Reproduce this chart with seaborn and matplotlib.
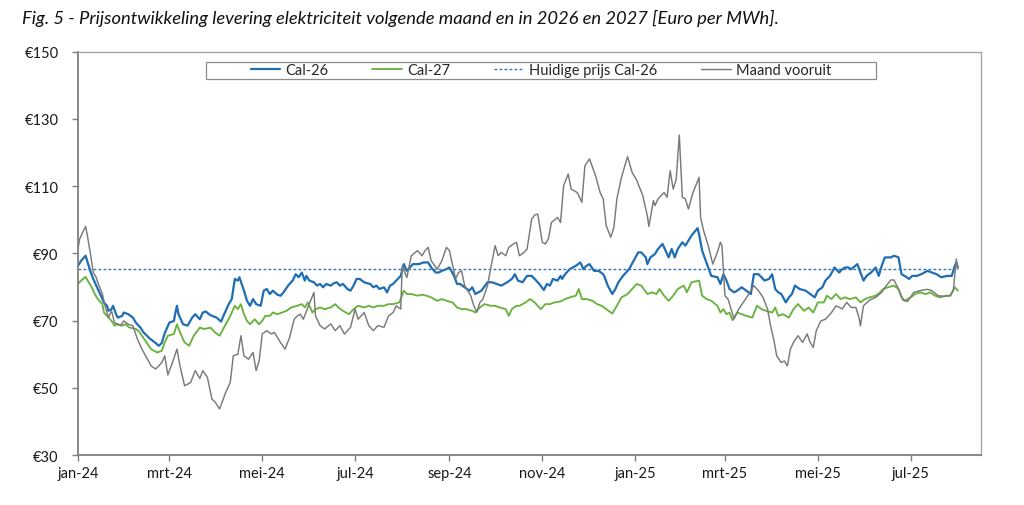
import matplotlib
matplotlib.use("Agg")
import matplotlib.pyplot as plt
import seaborn as sns
import pandas as pd
from matplotlib.patches import Rectangle

# ---------------- data ----------------
TITLE = "Fig. 5 - Prijsontwikkeling levering elektriciteit volgende maand en in 2026 en 2027 [Euro per MWh]."
START = "2024-01-01"   # day 0 of the day offsets below

# Cal-26: days since 1 Jan 2024, price
cal26_days = [0, 2, 5, 6, 8, 10, 12, 14, 17, 19,
              20, 22, 23, 25, 26, 29, 30, 33, 36, 38,
              41, 43, 47, 51, 53, 55, 57, 60, 63, 64,
              65, 66, 69, 72, 75, 77, 80, 82, 84, 86,
              88, 91, 94, 96, 99, 101, 103, 105, 106, 109,
              111, 113, 115, 117, 120, 122, 124, 126, 128, 131,
              133, 135, 138, 141, 143, 145, 147, 149, 150, 152,
              155, 157, 159, 161, 163, 166, 168, 170, 172, 174,
              177, 179, 181, 183, 185, 188, 190, 192, 194, 196,
              198, 201, 203, 205, 207, 209, 212, 214, 216, 218,
              220, 224, 227, 230, 232, 235, 237, 239, 242, 244,
              247, 249, 251, 254, 257, 259, 261, 263, 265, 269,
              272, 275, 278, 282, 285, 287, 289, 292, 295, 298,
              301, 303, 306, 308, 310, 312, 315, 317, 318, 320,
              323, 327, 330, 332, 334, 336, 339, 342, 345, 346,
              348, 351, 353, 355, 358, 362, 365, 368, 370, 373,
              374, 376, 379, 381, 384, 386, 388, 390, 392, 394,
              397, 399, 401, 403, 407, 408, 410, 412, 414, 416,
              420, 422, 424, 426, 428, 431, 433, 436, 439, 442,
              444, 447, 449, 451, 454, 456, 458, 460, 462, 465,
              467, 469, 471, 474, 478, 481, 484, 486, 489, 491,
              494, 497, 500, 502, 504, 506, 508, 512, 514, 516,
              518, 521, 524, 526, 528, 530, 534, 536, 539, 541,
              543, 546, 548, 551, 554, 558, 561, 564, 567, 571,
              574, 576, 577, 578]
cal26_vals = [86.3, 87.8, 89.3, 87.8, 84.8, 82.4, 80.4, 78.4, 75.4, 74.4,
              72.9, 73.4, 74.4, 71.9, 70.9, 71.4, 72.4, 71.9, 70.9, 69.4,
              67.9, 66.5, 64.7, 63.3, 62.5, 63.3, 66.3, 69.4, 69.9, 72.4,
              74.4, 71.9, 68.9, 68.5, 70.9, 71.9, 70.4, 72.4, 72.7, 71.9,
              71.4, 70.9, 69.7, 71.9, 74.9, 76.4, 82.4, 81.9, 82.9, 78.9,
              75.9, 74.4, 76.4, 74.9, 74.4, 78.9, 79.4, 77.9, 78.9, 77.7,
              77.4, 78.4, 80.4, 81.9, 83.8, 82.9, 84.3, 81.9, 83.3, 81.9,
              81.4, 80.4, 80.9, 79.9, 80.9, 80.4, 81.1, 81.4, 80.4, 80.9,
              79.4, 78.9, 80.4, 82.4, 82.4, 81.4, 81.1, 80.9, 79.9, 80.4,
              79.4, 79.9, 78.4, 80.4, 80.9, 81.9, 83.3, 86.8, 84.8, 85.8,
              86.8, 86.8, 87.3, 87.3, 85.8, 84.3, 84.3, 84.8, 85.3, 85.8,
              83.3, 80.9, 80.9, 79.9, 78.9, 79.9, 77.9, 78.4, 78.9, 81.4,
              81.4, 80.9, 80.4, 81.4, 82.4, 83.8, 81.9, 81.4, 83.3, 83.3,
              81.9, 80.9, 79.1, 80.9, 80.4, 82.4, 81.9, 83.3, 82.4, 83.8,
              85.3, 86.3, 87.3, 85.3, 86.3, 86.8, 84.8, 84.8, 83.8, 82.9,
              80.4, 77.9, 79.4, 81.4, 83.3, 85.3, 87.8, 90.3, 90.3, 88.8,
              86.8, 88.8, 89.8, 91.3, 92.8, 90.8, 88.8, 91.3, 88.8, 91.3,
              93.3, 92.3, 93.8, 95.3, 97.5, 95.7, 90.8, 88.3, 85.8, 83.3,
              82.9, 80.9, 83.8, 81.9, 79.4, 78.4, 78.9, 79.9, 78.9, 77.9,
              83.8, 83.8, 82.9, 81.9, 82.4, 83.8, 79.4, 78.4, 77.9, 75.4,
              76.9, 77.9, 80.4, 79.4, 78.9, 77.9, 76.9, 78.9, 79.9, 81.9,
              83.3, 85.8, 84.3, 85.3, 85.8, 85.8, 85.3, 86.8, 84.3, 81.9,
              83.3, 84.3, 85.8, 83.3, 86.3, 88.8, 88.8, 89.3, 88.8, 83.8,
              83.3, 82.4, 83.3, 83.3, 83.8, 84.8, 84.3, 83.8, 82.9, 83.3,
              83.3, 86.3, 87.3, 85.8]

# Cal-27
cal27_days = [0, 2, 5, 7, 9, 11, 13, 16, 17, 20,
              22, 24, 26, 29, 31, 34, 38, 40, 45, 48,
              52, 55, 57, 59, 63, 65, 67, 70, 73, 76,
              80, 83, 87, 90, 93, 97, 100, 103, 105, 107,
              109, 111, 113, 116, 119, 121, 123, 126, 128, 131,
              134, 137, 140, 144, 147, 149, 151, 154, 156, 159,
              162, 166, 169, 171, 174, 178, 181, 184, 188, 191,
              194, 197, 201, 204, 207, 211, 212, 214, 216, 219,
              223, 226, 229, 232, 236, 239, 242, 246, 249, 252,
              255, 259, 261, 264, 267, 271, 274, 277, 281, 283,
              285, 288, 290, 294, 297, 300, 304, 307, 310, 313,
              317, 320, 323, 327, 329, 331, 334, 338, 341, 344,
              347, 351, 354, 357, 361, 364, 367, 370, 374, 377,
              380, 382, 385, 388, 391, 394, 398, 400, 403, 408,
              410, 413, 416, 420, 422, 424, 426, 428, 430, 433,
              436, 439, 443, 446, 449, 452, 456, 458, 460, 463,
              467, 470, 473, 477, 480, 483, 486, 490, 492, 495,
              498, 501, 504, 507, 511, 514, 517, 520, 524, 527,
              529, 532, 536, 539, 541, 543, 547, 550, 553, 557,
              560, 563, 566, 570, 573, 576, 578]
cal27_vals = [80.9, 81.9, 83.0, 81.4, 79.9, 77.9, 76.4, 74.9, 72.4, 70.9,
              69.9, 68.5, 68.9, 68.5, 68.9, 67.9, 67.5, 66.8, 63.5, 61.5,
              60.5, 61.0, 63.5, 65.5, 66.0, 68.9, 66.5, 63.5, 62.5, 65.5,
              67.9, 67.5, 67.9, 66.5, 65.5, 68.9, 71.4, 74.4, 73.4, 74.9,
              71.9, 69.9, 68.9, 70.4, 68.9, 69.9, 71.4, 71.4, 72.4, 71.9,
              72.4, 72.9, 73.9, 74.4, 74.9, 73.9, 75.4, 72.4, 73.4, 73.9,
              73.4, 73.9, 74.9, 73.9, 72.9, 71.9, 73.4, 74.4, 73.9, 74.4,
              73.9, 74.4, 74.4, 74.9, 74.9, 75.4, 76.4, 78.9, 77.9, 77.9,
              77.4, 77.7, 77.4, 76.9, 75.9, 76.4, 75.9, 75.4, 73.9, 73.4,
              73.4, 72.9, 72.4, 73.9, 74.9, 74.4, 74.4, 73.9, 73.4, 71.4,
              73.4, 74.4, 74.4, 75.4, 76.4, 75.4, 73.4, 74.9, 74.9, 75.4,
              75.7, 76.4, 76.9, 77.4, 79.4, 76.4, 76.4, 75.9, 74.9, 74.4,
              73.4, 72.1, 74.4, 76.9, 77.9, 79.4, 80.9, 80.4, 77.9, 78.4,
              77.9, 79.4, 77.4, 75.9, 77.4, 79.4, 80.4, 78.4, 81.4, 81.9,
              77.4, 76.4, 75.9, 74.4, 72.4, 73.4, 71.9, 72.4, 70.1, 72.4,
              71.9, 71.4, 70.9, 74.4, 73.4, 72.9, 72.4, 73.9, 71.4, 71.9,
              70.9, 73.4, 74.9, 72.9, 73.9, 72.4, 75.4, 75.4, 77.4, 76.4,
              77.9, 76.4, 76.9, 76.4, 76.9, 75.4, 76.4, 76.9, 77.4, 78.4,
              79.4, 79.9, 80.4, 79.4, 76.9, 75.9, 76.9, 77.9, 78.4, 77.9,
              78.4, 77.4, 76.9, 77.4, 77.4, 79.9, 78.9]

huidige_prijs = 85.4
huidige_span = ["2024-01-01", "2025-08-01"]

# Maand vooruit (month ahead)
maand_days = [0, 1, 3, 5, 6, 8, 10, 12, 13, 16,
              18, 20, 22, 24, 28, 30, 33, 36, 39, 42,
              45, 48, 51, 53, 55, 57, 59, 62, 65, 67,
              70, 74, 77, 80, 82, 85, 88, 90, 93, 97,
              100, 102, 105, 107, 109, 112, 115, 117, 119, 121,
              124, 127, 129, 133, 136, 139, 142, 144, 146, 148,
              151, 155, 156, 159, 162, 166, 169, 172, 175, 179,
              182, 184, 188, 191, 194, 197, 201, 204, 207, 209,
              212, 213, 216, 219, 223, 226, 228, 230, 232, 236,
              239, 242, 244, 248, 250, 252, 254, 258, 260, 262,
              264, 266, 269, 271, 274, 276, 278, 281, 283, 286,
              288, 290, 293, 295, 298, 300, 302, 305, 307, 309,
              311, 315, 317, 319, 322, 324, 328, 331, 333, 336,
              340, 343, 345, 347, 350, 352, 354, 357, 361, 364,
              367, 371, 374, 375, 378, 379, 381, 385, 387, 389,
              391, 393, 395, 397, 399, 401, 404, 408, 409, 411,
              414, 417, 420, 422, 423, 425, 427, 431, 434, 437,
              440, 444, 447, 450, 453, 455, 457, 459, 462, 464,
              466, 468, 470, 473, 476, 479, 481, 483, 485, 488,
              491, 495, 498, 502, 505, 508, 511, 513, 514, 516,
              520, 524, 528, 531, 534, 536, 539, 542, 545, 549,
              553, 558, 561, 565, 569, 573, 575, 577, 578]
maand_vals = [91.3, 94.2, 96.2, 98.0, 95.7, 90.3, 84.3, 82.8, 81.3, 77.9,
              73.9, 70.9, 72.9, 69.4, 68.5, 69.9, 68.9, 68.5, 64.5, 61.5,
              59.0, 56.5, 55.6, 56.5, 57.5, 59.5, 53.8, 57.5, 61.5, 56.5,
              50.6, 51.6, 55.1, 52.8, 55.1, 53.1, 46.6, 45.8, 43.7, 48.6,
              51.6, 59.5, 60.0, 65.5, 59.5, 58.5, 60.5, 55.1, 58.0, 66.0,
              67.0, 66.0, 66.5, 63.5, 61.5, 65.0, 70.4, 71.4, 71.9, 70.4,
              73.9, 78.4, 71.4, 68.5, 67.5, 69.0, 67.0, 68.5, 66.0, 68.0,
              73.4, 70.4, 72.4, 68.5, 67.0, 68.5, 68.0, 71.4, 72.4, 74.4,
              73.4, 86.3, 82.8, 89.3, 90.8, 89.3, 90.8, 91.8, 87.8, 85.3,
              87.8, 91.8, 90.8, 82.4, 84.3, 84.8, 80.4, 77.4, 74.4, 72.5,
              75.4, 76.4, 80.4, 85.3, 92.3, 89.3, 90.3, 89.3, 91.8, 92.8,
              93.3, 89.3, 90.3, 91.3, 100.2, 101.4, 101.7, 93.3, 92.8, 94.3,
              99.2, 100.7, 99.2, 110.1, 113.6, 109.1, 108.1, 105.2, 116.1, 118.1,
              113.1, 108.1, 106.2, 98.2, 94.8, 97.7, 106.2, 112.6, 118.8, 114.1,
              111.8, 107.2, 101.2, 98.0, 105.7, 104.2, 106.2, 108.1, 106.7, 114.6,
              109.1, 112.1, 125.2, 106.7, 106.2, 103.2, 108.1, 112.6, 100.7, 96.7,
              92.3, 86.8, 90.3, 93.3, 92.3, 77.4, 76.4, 70.5, 73.4, 75.4,
              77.4, 80.4, 78.9, 76.9, 73.4, 68.4, 64.5, 59.5, 57.5, 58.0,
              56.5, 61.5, 63.5, 65.5, 63.5, 66.0, 63.5, 62.0, 67.0, 69.9,
              70.4, 72.4, 74.4, 73.5, 75.4, 73.9, 73.9, 71.0, 68.4, 74.4,
              76.1, 76.9, 78.4, 80.4, 82.1, 82.1, 79.4, 76.1, 75.7, 78.4,
              78.9, 79.3, 78.9, 77.4, 77.2, 77.4, 78.9, 88.3, 85.3]

tick_dates = ["2024-01-01", "2024-03-01", "2024-05-01", "2024-07-01", "2024-09-01",
              "2024-11-01", "2025-01-01", "2025-03-01", "2025-05-01", "2025-07-01"]
tick_labels = ["jan-24", "mrt-24", "mei-24", "jul-24", "sep-24",
               "nov-24", "jan-25", "mrt-25", "mei-25", "jul-25"]
y_ticks = [30, 50, 70, 90, 110, 130, 150]
x_range = ["2024-01-01", "2025-08-16"]


def to_frame(days, vals):
    return pd.DataFrame({"date": pd.Timestamp(START) + pd.to_timedelta(days, unit="D"),
                         "value": vals})


df26 = to_frame(cal26_days, cal26_vals)
df27 = to_frame(cal27_days, cal27_vals)
dfm = to_frame(maand_days, maand_vals)
dfh = pd.DataFrame({"date": pd.to_datetime(huidige_span),
                    "value": [huidige_prijs] * len(huidige_span)})

# ---------------- style ----------------
sns.set_theme(style="white")
plt.rcParams["font.family"] = ["Lato", "DejaVu Sans"]

BLUE = "#1f6db3"
GREEN = "#6ab23e"
GREY = "#7a7a7a"
DOT = "#2e75b6"

fig = plt.figure(figsize=(10.24, 5.06), dpi=100)
ax = fig.add_axes([0.0762, 0.0988, 0.8815, 0.797])

sns.lineplot(data=df26, x="date", y="value", ax=ax, color=BLUE, linewidth=1.6, label="Cal-26")
sns.lineplot(data=df27, x="date", y="value", ax=ax, color=GREEN, linewidth=1.35, label="Cal-27")
sns.lineplot(data=dfh, x="date", y="value", ax=ax, color=DOT, linewidth=1.0,
             linestyle=(0, (2, 1.6)), label="Huidige prijs Cal-26")
sns.lineplot(data=dfm, x="date", y="value", ax=ax, color=GREY, linewidth=1.05, label="Maand vooruit")

ax.set_xlim(pd.to_datetime(x_range[0]), pd.to_datetime(x_range[1]))
ax.set_ylim(y_ticks[0], y_ticks[-1])
ax.set_yticks(y_ticks)
ax.set_yticklabels([f"€{v}" for v in y_ticks])
ax.set_xticks(pd.to_datetime(tick_dates))
ax.set_xticklabels(tick_labels)
ax.set_xlabel("")
ax.set_ylabel("")
ax.grid(False)

for side in ["left", "bottom"]:
    ax.spines[side].set_color("#7f7f7f")
    ax.spines[side].set_linewidth(1.3)
for side in ["top", "right"]:
    ax.spines[side].set_color("#a6a6a6")
    ax.spines[side].set_linewidth(1.0)

ax.tick_params(axis="y", direction="out", length=4, width=1.0, color="#7f7f7f",
               labelsize=10.5, labelcolor="#1a1a1a", pad=10, left=True)
ax.tick_params(axis="x", direction="out", length=4, width=1.0, color="#7f7f7f",
               labelsize=10.5, labelcolor="#1a1a1a", pad=4, bottom=True)

# legend box
ax.add_patch(Rectangle((0.1418, 0.9323), 0.742, 0.0429, transform=ax.transAxes,
                       facecolor="white", edgecolor="#8c8c8c", linewidth=0.9, zorder=5))
leg = ax.legend(loc="center", bbox_to_anchor=(0.513, 0.9537), ncol=4, frameon=False,
                fontsize=10.5, handlelength=2.0, handletextpad=0.4, columnspacing=3.0,
                borderpad=0)
leg.set_zorder(6)

fig.text(0.021, 0.964, TITLE, fontsize=13.2, style="italic", color="#111111",
         ha="left", va="center")

fig.savefig("out.png", dpi=100)
